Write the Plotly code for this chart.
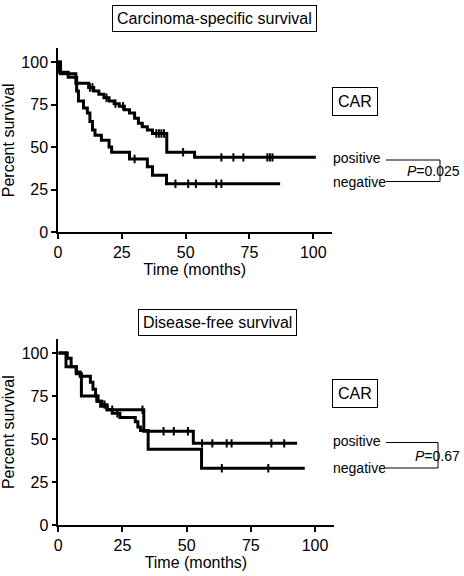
import numpy as np
import plotly.graph_objects as go

# ---- data ----
# Carcinoma-specific survival
cs_pos_t = [0, 1, 7, 12, 14, 16, 18, 20, 22, 24, 26, 28, 30, 31.5, 33, 35, 37, 42.6, 53.5, 101]
cs_pos_s = [100, 93, 87.5, 85, 83, 81, 79, 77, 75.5, 74, 72, 70, 67, 64, 62, 60, 58, 47, 44, 44]
cs_pos_cens = [12.5, 13.5, 19, 22.5, 25.5, 38.5, 39.5, 40.5, 41.5, 49, 64, 68.7, 72.6, 82, 83, 84]

cs_neg_t = [0, 0.5, 4, 7.3, 8, 10, 11.5, 12.5, 13.5, 14.5, 17, 20, 21, 28, 35, 37, 42.5, 87]
cs_neg_s = [100, 94, 91, 83, 77, 73, 70, 65, 60, 57, 54, 50, 47, 43, 38.5, 33.5, 28.5, 28.5]
cs_neg_cens = [30, 46, 51, 54, 62, 64]

# Disease-free survival
df_pos_t = [0, 3.5, 5, 7, 8.5, 12.5, 13.5, 14.5, 15.5, 17, 19, 33.3, 52.6, 93]
df_pos_s = [100, 97, 92, 89, 86.5, 83, 79, 75, 72, 70, 67, 54.5, 47.5, 47.5]
df_pos_cens = [18, 21, 32.8, 41, 45, 50.5, 56, 60, 65.6, 67.5, 83, 88]

df_neg_t = [0, 3, 7, 9, 15, 16.5, 19, 21, 24, 30, 31, 32, 35, 55.8, 96]
df_neg_s = [100, 92, 88, 75, 72, 69, 67, 65, 62.5, 60, 57, 55, 44, 33, 33]
df_neg_cens = [23, 63.7, 81.8]

x_ticks = [0, 25, 50, 75, 100]
y_ticks = [0, 25, 50, 75, 100]
titles = ["Carcinoma-specific survival", "Disease-free survival"]
p_values = ["0.025", "0.67"]
group_labels = ["positive", "negative"]
marker_label = "CAR"

FONT = "Liberation Sans, Arial, Helvetica, sans-serif"
W, H = 464, 576


def px(x):
    return x / W


def py(y):
    return 1 - y / H


def step_val(t, s, x):
    t = np.asarray(t)
    s = np.asarray(s)
    i = np.searchsorted(t, x, side="right") - 1
    return s[i]


fig = go.Figure()


def add_curve(t, s, cens, xa, ya):
    fig.add_trace(go.Scatter(x=t, y=s, mode="lines", line=dict(color="black", width=3, shape="hv"),
                             xaxis=xa, yaxis=ya, showlegend=False, hoverinfo="skip"))
    cy = [float(step_val(t, s, c)) for c in cens]
    fig.add_trace(go.Scatter(x=cens, y=cy, mode="markers",
                             marker=dict(symbol="line-ns-open", size=6, color="black",
                                         line=dict(color="black", width=2)),
                             xaxis=xa, yaxis=ya, showlegend=False, hoverinfo="skip"))


add_curve(cs_pos_t, cs_pos_s, cs_pos_cens, "x", "y")
add_curve(cs_neg_t, cs_neg_s, cs_neg_cens, "x", "y")
add_curve(df_pos_t, df_pos_s, df_pos_cens, "x2", "y2")
add_curve(df_neg_t, df_neg_s, df_neg_cens, "x2", "y2")

axis_common = dict(showline=True, linecolor="black", linewidth=1.5, ticks="outside", ticklen=5,
                   tickwidth=1.5, tickcolor="black", showgrid=False, zeroline=False, automargin=False,
                   tickfont=dict(family=FONT, size=16, color="black"))
tfont = dict(family=FONT, size=16, color="black")

fig.update_layout(
    width=W, height=H, margin=dict(l=0, r=0, t=0, b=0, autoexpand=False),
    paper_bgcolor="white", plot_bgcolor="white",
    xaxis=dict(domain=[px(58), px(331.7)], range=[0, 107.2], tickvals=x_ticks, anchor="y",
               title=dict(text="Time (months)", font=tfont, standoff=2), **axis_common),
    yaxis=dict(domain=[py(232.3), py(48.3)], range=[0, 108], tickvals=y_ticks, anchor="x",
               title=dict(text="Percent survival", font=tfont, standoff=4), **axis_common),
    xaxis2=dict(domain=[px(58.3), px(333.5)], range=[0, 107.2], tickvals=x_ticks, anchor="y2",
                title=dict(text="Time (months)", font=tfont, standoff=4), **axis_common),
    yaxis2=dict(domain=[py(525), py(339.3)], range=[0, 108], tickvals=y_ticks, anchor="x2",
                title=dict(text="Percent survival", font=tfont, standoff=4), **axis_common),
)

ann_font = dict(family=FONT, size=16, color="black")
lab_font = dict(family=FONT, size=14, color="black")

panels = [
    dict(title=(214, 18.5), car=(355, 101), pos_y=160, neg_y=181.5, p_y=171, vx=440),
    dict(title=(217, 322), car=(355, 393), pos_y=442.5, neg_y=468, p_y=456, vx=438),
]

shapes = []
annotations = []
for i, p in enumerate(panels):
    annotations.append(dict(x=px(p["title"][0]), y=py(p["title"][1]), xref="paper", yref="paper",
                            text=titles[i], showarrow=False, font=ann_font, bordercolor="black",
                            borderwidth=1, borderpad=4, xanchor="center", yanchor="middle"))
    annotations.append(dict(x=px(p["car"][0]), y=py(p["car"][1]), xref="paper", yref="paper",
                            text=marker_label, showarrow=False, font=ann_font,
                            bordercolor="black", borderwidth=1, borderpad=5, xanchor="center", yanchor="middle"))
    annotations.append(dict(x=px(331), y=py(p["pos_y"] - 2), xref="paper", yref="paper",
                            text=group_labels[0], showarrow=False, font=lab_font,
                            xanchor="left", yanchor="middle"))
    annotations.append(dict(x=px(331), y=py(p["neg_y"]), xref="paper", yref="paper",
                            text=group_labels[1], showarrow=False, font=lab_font, xanchor="left", yanchor="middle"))
    annotations.append(dict(x=px(462), y=py(p["p_y"]), xref="paper", yref="paper",
                            text="<i>P</i>=" + p_values[i], showarrow=False, font=lab_font,
                            xanchor="right", yanchor="middle"))
    lx0 = 386
    shapes.append(dict(type="line", xref="paper", yref="paper", x0=px(lx0), x1=px(p["vx"]),
                       y0=py(p["pos_y"]), y1=py(p["pos_y"]), line=dict(color="black", width=1)))
    shapes.append(dict(type="line", xref="paper", yref="paper", x0=px(lx0), x1=px(p["vx"]),
                       y0=py(p["neg_y"]), y1=py(p["neg_y"]), line=dict(color="black", width=1)))
    shapes.append(dict(type="line", xref="paper", yref="paper", x0=px(p["vx"]), x1=px(p["vx"]),
                       y0=py(p["pos_y"]), y1=py(p["neg_y"]), line=dict(color="black", width=1)))

fig.update_layout(annotations=annotations, shapes=shapes)
fig.write_html("out.html", config={"displayModeBar": False},
               post_script="document.body.style.margin='0';document.body.style.overflow='hidden';")
